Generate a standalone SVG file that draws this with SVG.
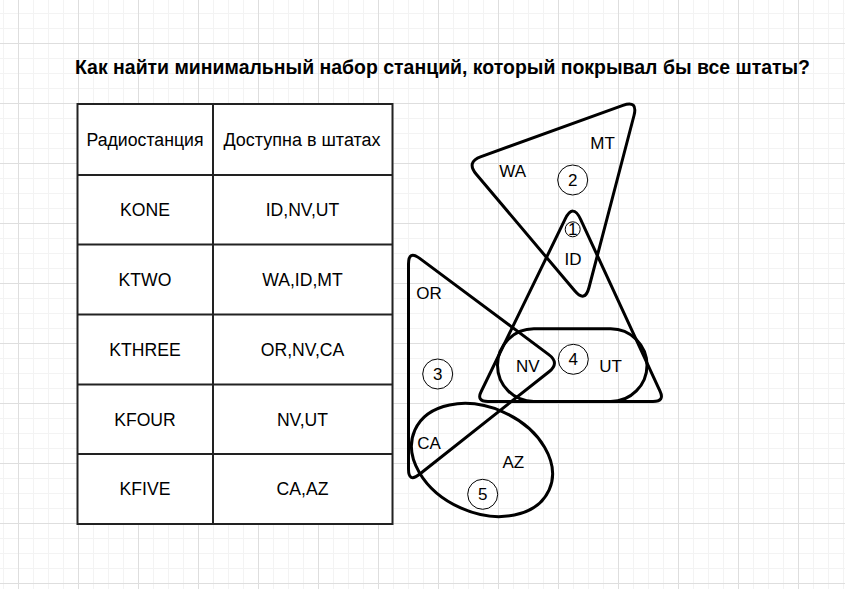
<svg xmlns="http://www.w3.org/2000/svg" width="845" height="589" viewBox="0 0 845 589">
<defs>
<pattern id="grid" patternUnits="userSpaceOnUse" x="18" y="43" width="60" height="60">
<rect x="15" y="0" width="1" height="60" fill="#f3f3f3"/>
<rect x="30" y="0" width="1" height="60" fill="#f3f3f3"/>
<rect x="45" y="0" width="1" height="60" fill="#f3f3f3"/>
<rect x="0" y="15" width="60" height="1" fill="#f3f3f3"/>
<rect x="0" y="30" width="60" height="1" fill="#f3f3f3"/>
<rect x="0" y="45" width="60" height="1" fill="#f3f3f3"/>
<rect x="0" y="0" width="1" height="60" fill="#dedede"/>
<rect x="0" y="0" width="60" height="1" fill="#dedede"/>
</pattern>
</defs>
<style>
.t{font-family:"Liberation Sans",Arial,sans-serif;font-size:17.6px;fill:#000;text-anchor:middle}
.s{font-family:"Liberation Sans",Arial,sans-serif;font-size:17px;fill:#000;text-anchor:middle}
.title{font-family:"Liberation Sans",Arial,sans-serif;font-size:19.5px;font-weight:bold;fill:#000;text-anchor:middle}
.tbl{fill:#fff;stroke:#222;stroke-width:2}
.ln{stroke:#222;stroke-width:2;fill:none}
.sh{fill:none;stroke:#000;stroke-width:3;stroke-linejoin:round}
.num{fill:none;stroke:#000;stroke-width:1}
</style>
<rect x="0" y="0" width="845" height="589" fill="#fff"/>
<rect x="0" y="0" width="845" height="589" fill="url(#grid)"/>

<g id="title"><text class="title" x="442.5" y="73.5" textLength="735" lengthAdjust="spacingAndGlyphs">Как найти минимальный набор станций, который покрывал бы все штаты?</text></g>

<g id="table">
<rect class="tbl" x="77.5" y="104" width="315" height="420"/>
<line class="ln" x1="213" y1="104" x2="213" y2="524"/>
<line class="ln" x1="77.5" y1="175" x2="392.5" y2="175"/>
<line class="ln" x1="77.5" y1="244.5" x2="392.5" y2="244.5"/>
<line class="ln" x1="77.5" y1="314.5" x2="392.5" y2="314.5"/>
<line class="ln" x1="77.5" y1="384.5" x2="392.5" y2="384.5"/>
<line class="ln" x1="77.5" y1="454" x2="392.5" y2="454"/>
<text class="t" x="145" y="145.8" textLength="117" lengthAdjust="spacingAndGlyphs">Радиостанция</text>
<text class="t" x="302" y="145.8" textLength="157" lengthAdjust="spacingAndGlyphs">Доступна в штатах</text>
<text class="t" x="145" y="216">KONE</text>
<text class="t" x="302.5" y="216">ID,NV,UT</text>
<text class="t" x="145" y="285.8">KTWO</text>
<text class="t" x="302.5" y="285.8">WA,ID,MT</text>
<text class="t" x="145" y="356">KTHREE</text>
<text class="t" x="302.5" y="356">OR,NV,CA</text>
<text class="t" x="145" y="425.6">KFOUR</text>
<text class="t" x="302.5" y="425.6">NV,UT</text>
<text class="t" x="145" y="495.3">KFIVE</text>
<text class="t" x="302.5" y="495.3">CA,AZ</text>
</g>

<g id="station2">
<path class="sh" d="M481.1,156.6 L622.9,105.4 Q638,100 634,115.5 L589,287.5 Q585,303 574.7,290.8 L476.3,174.2 Q466,162 481.1,156.6 Z"/>
<text class="s" x="512.7" y="177.2">WA</text>
<text class="s" x="602.5" y="148.5">MT</text>
<circle class="num" cx="572.7" cy="180" r="15"/>
<text class="s" x="572.7" y="186">2</text>
</g>

<g id="station1">
<path class="sh" d="M565.1,219.2 Q573,203 580.6,219.3 L660,391.1 Q665,401.5 653,401.5 L488,401.5 Q476,401.5 481.3,391.2 Z"/>
<circle class="num" cx="572.7" cy="229.3" r="7.5"/>
<text class="s" x="572.7" y="235.3">1</text>
<text class="s" x="573" y="265">ID</text>
</g>

<g id="station3">
<path class="sh" d="M408.5,264 Q408.5,250 419.7,258.4 L548.8,354.6 Q560,363 549,371.7 L419.5,474.3 Q408.5,483 408.5,469 Z"/>
<text class="s" x="429" y="298.6">OR</text>
<circle class="num" cx="437.7" cy="374" r="15"/>
<text class="s" x="437.7" y="380.1">3</text>
</g>

<g id="station4">
<rect class="sh" x="497.5" y="328.8" width="149.5" height="72.7" rx="36.35" ry="36.35"/>
<text class="s" x="527.7" y="372.4">NV</text>
<circle class="num" cx="573.3" cy="359.3" r="15"/>
<text class="s" x="573.3" y="365.3">4</text>
<text class="s" x="610.5" y="372.4">UT</text>
</g>

<g id="station5">
<ellipse class="sh" cx="482" cy="460" rx="73.5" ry="52.5" transform="rotate(24 482 460)"/>
<text class="s" x="429" y="448.6">CA</text>
<text class="s" x="513.3" y="468.2">AZ</text>
<circle class="num" cx="482.7" cy="494.3" r="15"/>
<text class="s" x="482.7" y="500.3">5</text>
</g>

<g id="connectors"/>
</svg>
